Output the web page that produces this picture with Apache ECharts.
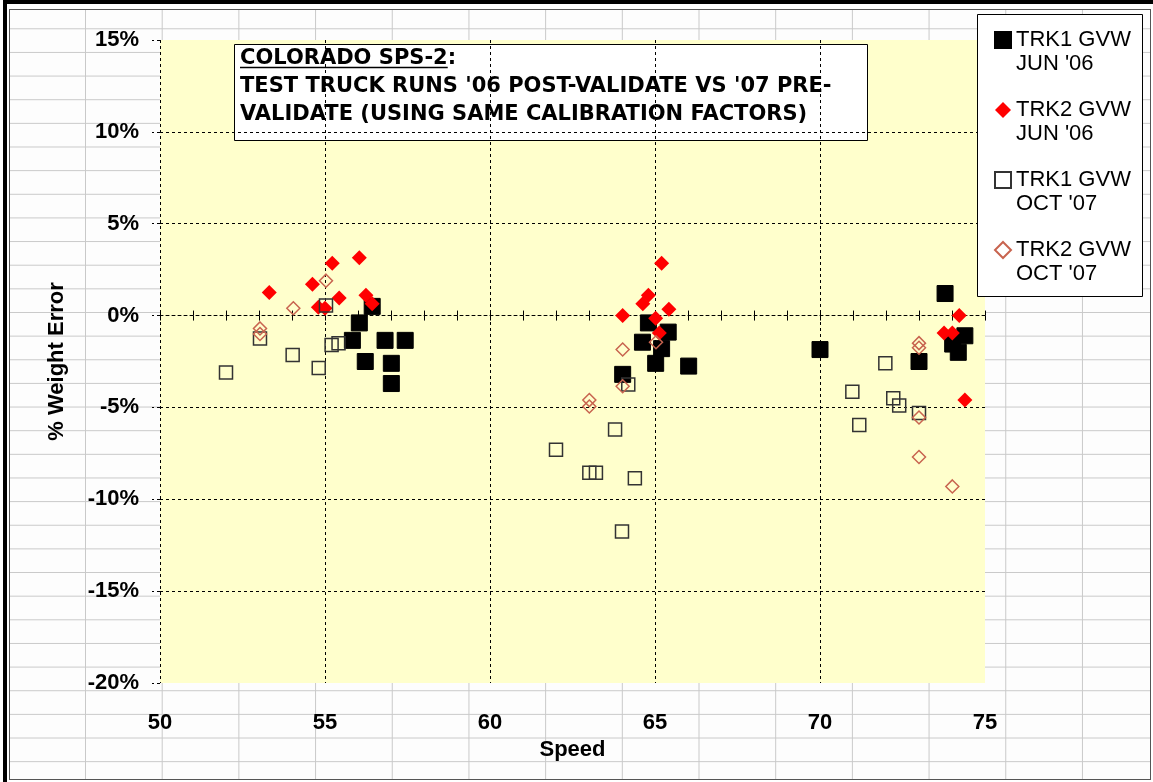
<!DOCTYPE html>
<html>
<head>
<meta charset="utf-8">
<title>Colorado SPS-2</title>
<script src="https://cdn.jsdelivr.net/npm/echarts@6/dist/echarts.min.js"></script>
<style>
  html, body { margin: 0; padding: 0; background: #fff; overflow: hidden; }
  #sheet {
    position: absolute; left: 3px; top: 0; width: 1150px; height: 782px;
    border-top: 4px solid #000; border-left: 4px solid #000; box-sizing: border-box;
  }
  #cells {
    position: absolute; left: 9px; top: 9px; width: 1142px; height: 771px;
    box-sizing: border-box; border: 1px solid #555;
    background-color: #fdfdfd;
    background-image: linear-gradient(to right, #c9c9c9 1px, transparent 1px),
                      linear-gradient(to bottom, #c9c9c9 1px, transparent 1px);
    background-size: 76.7px 23.65px;
    background-position: 75px 18.3px;
  }
  #chart { position: absolute; left: 0; top: 0; width: 1153px; height: 782px; }
</style>
</head>
<body>
<div id="sheet"></div>
<div id="cells"></div>
<div id="chart"></div>
<script>
// axis ticks
const speedTicks = [50, 55, 60, 65, 70, 75]
const errorTicks = [-20, -15, -10, -5, 0, 5, 10, 15]

const seriesNames = ['TRK1 GVW\nJUN \'06', 'TRK2 GVW\nJUN \'06', 'TRK1 GVW\nOCT \'07', 'TRK2 GVW\nOCT \'07']

const titleLines = ['COLORADO SPS-2', ':', 'TEST TRUCK RUNS \'06 POST-VALIDATE VS \'07 PRE-', 'VALIDATE (USING SAME CALIBRATION FACTORS)']

// TRK1 GVW JUN '06 (black squares)
const trk1JunSpeed = [56.43, 56.04, 55.83, 56.22, 56.82, 57.43, 57.01, 57.01,
  64.8, 65.4, 64.62, 65.2, 65.02, 66.02, 64.02,
  70.0, 73.0, 73.79, 74.39, 74.02, 74.19]
const trk1JunError = [0.5, -0.4, -1.35, -2.5, -1.35, -1.35, -2.6, -3.7,
  -0.4, -0.9, -1.45, -1.8, -2.6, -2.75, -3.2,
  -1.85, -2.5, 1.2, -1.1, -1.55, -2.0]

// TRK2 GVW JUN '06 (red diamonds)
const trk2JunSpeed = [53.31, 54.62, 55.22, 56.04, 55.43, 56.24, 56.43, 54.8, 55.0,
  65.2, 64.8, 64.63, 65.42, 64.02, 65.02, 65.13,
  74.22, 73.76, 74.01, 74.39]
const trk2JunError = [1.25, 1.7, 2.85, 3.15, 0.95, 1.1, 0.65, 0.45, 0.4,
  2.85, 1.1, 0.65, 0.35, 0.0, -0.15, -0.95,
  0.0, -0.95, -0.95, -4.6]

// TRK1 GVW OCT '07 (hollow squares)
const trk1OctSpeed = [53.03, 52.0, 54.02, 54.81, 55.2, 55.41, 55.03,
  64.19, 63.79, 62.0, 63.01, 63.21, 64.39, 64.0,
  71.98, 70.98, 72.22, 72.4, 73.0, 71.19]
const trk1OctError = [-1.25, -3.1, -2.15, -2.85, -1.6, -1.5, 0.55,
  -3.75, -6.2, -7.3, -8.55, -8.55, -8.85, -11.75,
  -2.6, -4.15, -4.5, -4.9, -5.3, -5.95]

// TRK2 GVW OCT '07 (hollow diamonds)
const trk2OctSpeed = [55.03, 54.04, 53.03, 53.03,
  65.03, 64.02, 64.02, 63.01, 63.01,
  73.0, 73.0, 73.0, 73.0, 74.01]
const trk2OctError = [1.9, 0.4, -0.7, -1.0,
  -1.45, -1.85, -3.85, -4.6, -4.95,
  -1.5, -1.75, -5.55, -7.7, -9.3]

function zip(xs, ys) {
  return xs.map((x, i) => [x, ys[i]])
}

const FONT = '"Liberation Sans", Arial, sans-serif'
const TITLE_FONT = '"DejaVu Sans", sans-serif'
const dash = [3, 3]

// width of the underlined part of the title
const ctx = document.createElement('canvas').getContext('2d')
ctx.font = 'bold 21px ' + TITLE_FONT
const underlineW = ctx.measureText(titleLines[0]).width

const splitColors = errorTicks.map((v, i) => (i === 0 || i === errorTicks.length - 1 || v === 0) ? 'rgba(0,0,0,0)' : '#000')
const vSplitColors = speedTicks.map((v, i) => i === speedTicks.length - 1 ? 'rgba(0,0,0,0)' : '#000')

const option = {
  animation: false,
  grid: {
    left: 160, right: 168, top: 40, bottom: 99,
    show: true, backgroundColor: '#ffffcc', borderWidth: 0,
    containLabel: false, outerBoundsMode: 'none'
  },
  legend: {
    orient: 'vertical',
    left: 994, top: 4,
    padding: 0,
    itemWidth: 16, itemHeight: 16,
    itemGap: -2,
    z: 5,
    data: seriesNames,
    // blank first line so the marker sits level with the first text line
    formatter: name => '\n' + name,
    textStyle: { fontFamily: FONT, fontSize: 22, color: '#000', lineHeight: 24 }
  },
  xAxis: [
    {
      type: 'value', min: speedTicks[0], max: speedTicks[speedTicks.length - 1],
      interval: speedTicks[1] - speedTicks[0],
      name: 'Speed', nameLocation: 'middle', nameGap: 54,
      nameTextStyle: { fontFamily: FONT, fontSize: 22, fontWeight: 'bold', color: '#000' },
      axisLine: { show: false, onZero: false },
      axisTick: { show: false },
      axisLabel: { margin: 29, fontFamily: FONT, fontSize: 22, fontWeight: 'bold', color: '#000' },
      splitLine: { show: true, lineStyle: { color: vSplitColors, type: dash, width: 1 } }
    },
    {
      // axis crossing at 0%, ticks every 1
      type: 'value', min: speedTicks[0], max: speedTicks[speedTicks.length - 1], interval: 1,
      axisLine: { show: true, onZero: true, onZeroAxisIndex: 0, lineStyle: { color: '#000', type: dash, width: 1 } },
      axisTick: { show: true, inside: true, length: 5, lineStyle: { color: '#000' } },
      axisLabel: { show: false },
      splitLine: { show: false }
    },
    {
      type: 'value', min: speedTicks[0], max: speedTicks[speedTicks.length - 1], interval: 1,
      axisLine: { show: true, onZero: true, onZeroAxisIndex: 0, lineStyle: { color: 'rgba(0,0,0,0)' } },
      axisTick: { show: true, inside: false, length: 5, lineStyle: { color: '#000' } },
      axisLabel: { show: false },
      splitLine: { show: false }
    }
  ],
  yAxis: {
    type: 'value', min: errorTicks[0], max: errorTicks[errorTicks.length - 1],
    interval: errorTicks[1] - errorTicks[0],
    name: '% Weight Error', nameLocation: 'middle', nameGap: 92,
    nameTextStyle: { fontFamily: FONT, fontSize: 22, fontWeight: 'bold', color: '#000' },
    axisLine: { show: false },
    axisTick: { show: true, length: 8, lineStyle: { color: '#000', type: dash } },
    axisLabel: { margin: 21, formatter: '{value}%', fontFamily: FONT, fontSize: 22, fontWeight: 'bold', color: '#000' },
    splitLine: { show: true, lineStyle: { color: splitColors, type: dash, width: 1 } }
  },
  graphic: [
    {
      type: 'rect', z: 1,
      shape: { x: 977.5, y: 14.5, width: 165, height: 282 },
      style: { fill: '#fff', stroke: '#000', lineWidth: 1 }
    },
    {
      type: 'group', z: 10,
      children: [
        {
          type: 'rect',
          shape: { x: 234.5, y: 44.5, width: 633, height: 96 },
          style: { fill: '#fff', stroke: '#000', lineWidth: 1 }
        },
        {
          type: 'text',
          style: {
            x: 240, y: 44, text: titleLines[0] + titleLines[1] + '\n' + titleLines[2] + '\n' + titleLines[3],
            fontFamily: TITLE_FONT, fontSize: 21, fontWeight: 'bold', lineHeight: 28.3,
            fill: '#000', verticalAlign: 'top'
          }
        },
        {
          type: 'line',
          shape: { x1: 240, y1: 67.5, x2: 240 + underlineW, y2: 67.5 },
          style: { stroke: '#000', lineWidth: 1.5 }
        }
      ]
    }
  ],
  series: [
    {
      name: seriesNames[0], type: 'scatter', symbol: 'rect', symbolSize: 16,
      itemStyle: { color: '#000', borderColor: '#000', borderWidth: 1, opacity: 1 },
      data: zip(trk1JunSpeed, trk1JunError)
    },
    {
      name: seriesNames[1], type: 'scatter', symbol: 'diamond', symbolSize: 15,
      itemStyle: { color: '#ff0000', opacity: 1 },
      data: zip(trk2JunSpeed, trk2JunError)
    },
    {
      name: seriesNames[2], type: 'scatter', symbol: 'rect', symbolSize: 13,
      itemStyle: { color: 'rgba(0,0,0,0)', borderColor: '#333', borderWidth: 1.5, opacity: 1 },
      data: zip(trk1OctSpeed, trk1OctError)
    },
    {
      name: seriesNames[3], type: 'scatter', symbol: 'diamond', symbolSize: 13,
      itemStyle: { color: 'rgba(0,0,0,0)', borderColor: '#c8644f', borderWidth: 1.5, opacity: 1 },
      data: zip(trk2OctSpeed, trk2OctError)
    }
  ]
}

echarts.init(document.getElementById('chart')).setOption(option)
</script>
</body>
</html>
